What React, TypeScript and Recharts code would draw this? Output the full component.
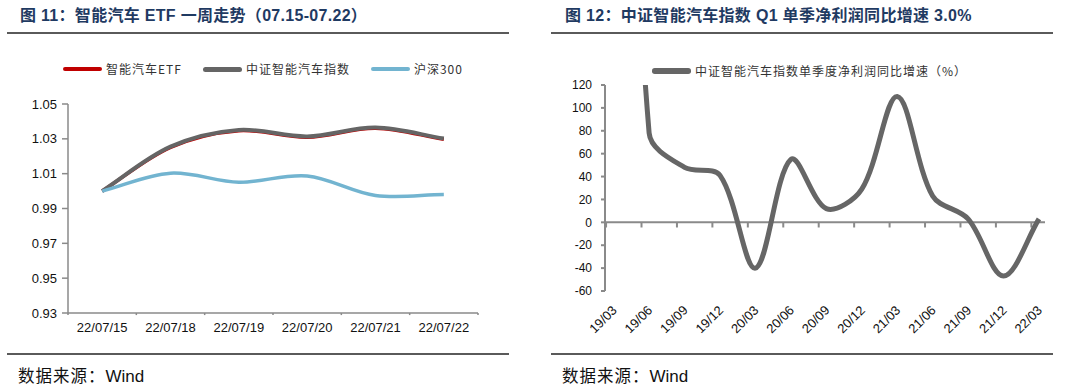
import { LineChart, Line, XAxis, YAxis, ReferenceLine } from 'recharts'

// ---- fig 11: one week trend ----
const weekDates = ['22/07/15', '22/07/18', '22/07/19', '22/07/20', '22/07/21', '22/07/22']
const etfValues = [1.0, 1.0251, 1.0347, 1.0309, 1.0361, 1.0297]
const indexValues = [1.0, 1.0255, 1.0351, 1.0314, 1.0365, 1.0302]
const hs300Values = [1.0, 1.0103, 1.0051, 1.0087, 0.9975, 0.998]
const weekTicks = [0.93, 0.95, 0.97, 0.99, 1.01, 1.03, 1.05]

// ---- fig 12: quarterly net profit yoy ----
const quarters = ['19/03', '19/06', '19/09', '19/12', '20/03', '20/06', '20/09', '20/12', '21/03', '21/06', '21/09', '21/12', '22/03']
const profitGrowth = [800, 78, 48, 41, -40, 55, 12, 29, 110, 23, 3, -47, 3]
const growthTicks = [-60, -40, -20, 0, 20, 40, 60, 80, 100, 120]

const FONT = '"Liberation Sans", Arial, "Noto Sans CJK SC", sans-serif'
const CJK = '"Noto Sans CJK SC", "Liberation Sans", sans-serif'
const AXIS = '#8a8a8a'

const weekData = weekDates.map((d, i) => ({
  i, date: d, etf: etfValues[i], index: indexValues[i], hs300: hs300Values[i],
}))
const growthData = quarters.map((q, i) => ({ i, q, v: profitGrowth[i] }))

// Excel-like smoothing: cubic bezier, tangent split by neighbouring chord lengths
// eslint-disable-next-line @typescript-eslint/no-explicit-any
function excelSmooth(context: any) {
  let pts: number[][] = []
  return {
    areaStart() {},
    areaEnd() {},
    lineStart() { pts = [] },
    point(x: number, y: number) { pts.push([+x, +y]) },
    lineEnd() {
      const n = pts.length
      if (!n) return
      context.moveTo(pts[0][0], pts[0][1])
      const outs: number[][] = []
      const ins: number[][] = []
      for (let i = 0; i < n; i++) {
        const p = pts[i]
        const prev = pts[i - 1] ?? p
        const next = pts[i + 1] ?? p
        const tx = next[0] - prev[0]
        const ty = next[1] - prev[1]
        const dp = Math.hypot(p[0] - prev[0], p[1] - prev[1])
        const dn = Math.hypot(next[0] - p[0], next[1] - p[1])
        const s = (dp + dn) || 1
        outs.push([p[0] + (tx * dn) / s / 3, p[1] + (ty * dn) / s / 3])
        ins.push([p[0] - (tx * dp) / s / 3, p[1] - (ty * dp) / s / 3])
      }
      for (let i = 0; i < n - 1; i++) {
        context.bezierCurveTo(outs[i][0], outs[i][1], ins[i + 1][0], ins[i + 1][1], pts[i + 1][0], pts[i + 1][1])
      }
    },
  }
}

function Frame({ title, left, titleX }: { title: string; left: number; titleX: number }) {
  return (
    <>
      <div style={{ position: 'absolute', left: titleX, top: 5, fontFamily: FONT, fontWeight: 700, fontSize: 16, letterSpacing: 0.3, lineHeight: '21px', color: '#1f3a62', whiteSpace: 'nowrap' }}>
        {title}
      </div>
      <div style={{ position: 'absolute', left, top: 32, width: 502, height: 2, background: '#5a5a5a' }} />
      <div style={{ position: 'absolute', left, top: 353, width: 502, height: 2, background: '#5a5a5a' }} />
      <div style={{ position: 'absolute', left: left + 11, top: 364, fontFamily: CJK, fontSize: 16.5, letterSpacing: 1, lineHeight: '22px', color: '#111', whiteSpace: 'nowrap' }}>
        数据来源：<span style={{ fontFamily: FONT, fontSize: 17, letterSpacing: 0 }}>Wind</span>
      </div>
    </>
  )
}

function LegendItem({ color, label, width }: { color: string; label: string; width: number }) {
  return (
    <div style={{ display: 'flex', alignItems: 'center', gap: 4 }}>
      <div style={{ width: 39, height: width, borderRadius: width / 2, background: color }} />
      <span style={{ fontFamily: CJK, fontSize: 12, letterSpacing: 1, color: '#333', lineHeight: '16px' }}>{label}</span>
    </div>
  )
}

// eslint-disable-next-line @typescript-eslint/no-explicit-any
function QuarterTick({ x, y, payload }: any) {
  const ax = x + 4
  return (
    <text x={ax} y={y} transform={`rotate(-45 ${ax} ${y})`} textAnchor="end" fontSize={13} fontFamily={FONT} fill="#111">
      {quarters[payload.value]}
    </text>
  )
}

function WeekChart() {
  const bounds = weekDates.map((_, i) => i - 0.5).concat(weekDates.length - 0.5)
  return (
    <div style={{ position: 'absolute', left: 0, top: 0 }}>
      <LineChart width={540} height={389} data={weekData} margin={{ top: 104, right: 62, bottom: 46, left: 8 }}>
        <XAxis
          dataKey="i" type="number" domain={[-0.5, weekDates.length - 0.5]} allowDataOverflow
          ticks={weekData.map(d => d.i)} tickFormatter={v => weekDates[v]}
          height={30} tickLine={false} tickSize={0} tickMargin={10}
          axisLine={{ stroke: AXIS, strokeWidth: 1.5 }}
          tick={{ fontSize: 13, fill: '#111', fontFamily: FONT }}
        />
        <YAxis
          domain={[0.93, 1.05]} ticks={weekTicks} allowDataOverflow width={60}
          tickFormatter={v => v.toFixed(2)}
          axisLine={{ stroke: AXIS, strokeWidth: 1.5 }}
          tickLine={{ stroke: AXIS, strokeWidth: 1.5 }} tickSize={6} tickMargin={5}
          tick={{ fontSize: 13, fill: '#111', fontFamily: FONT }}
        />
        {bounds.map(b => (
          <ReferenceLine key={b} segment={[{ x: b, y: 0.93 }, { x: b, y: 0.9288 }]} ifOverflow="visible" stroke={AXIS} strokeWidth={1.5} />
        ))}
        <Line dataKey="etf" name="智能汽车ETF" type={excelSmooth} stroke="#c00000" strokeWidth={3.5} dot={false} isAnimationActive={false} />
        <Line dataKey="index" name="中证智能汽车指数" type={excelSmooth} stroke="#656565" strokeWidth={4} dot={false} isAnimationActive={false} />
        <Line dataKey="hs300" name="沪深300" type={excelSmooth} stroke="#72b4d0" strokeWidth={3.5} dot={false} isAnimationActive={false} />
      </LineChart>
      <div style={{ position: 'absolute', left: 63, top: 61, display: 'flex', gap: 21 }}>
        <LegendItem color="#c00000" label="智能汽车ETF" width={4} />
        <LegendItem color="#656565" label="中证智能汽车指数" width={5} />
        <LegendItem color="#72b4d0" label="沪深300" width={4} />
      </div>
    </div>
  )
}

function GrowthChart() {
  const n = quarters.length
  return (
    <div style={{ position: 'absolute', left: 540, top: 0 }}>
      <LineChart width={540} height={389} data={growthData} margin={{ top: 85, right: 35, bottom: 38, left: 15 }}>
        <XAxis
          dataKey="i" type="number" domain={[-0.245, n - 0.83]} allowDataOverflow
          ticks={growthData.map(d => d.i)} height={60}
          axisLine={false} tickLine={false} tickSize={0} tickMargin={20}
          tick={<QuarterTick />}
        />
        <YAxis
          domain={[-60, 120]} ticks={growthTicks} allowDataOverflow width={50}
          axisLine={{ stroke: AXIS, strokeWidth: 2 }}
          tickLine={{ stroke: AXIS, strokeWidth: 2 }} tickSize={4} tickMargin={9}
          tick={{ fontSize: 12, fill: '#111', fontFamily: FONT }}
        />
        <ReferenceLine y={0} stroke={AXIS} strokeWidth={2} />
        {growthData.map(d => (
          <ReferenceLine key={d.q} segment={[{ x: d.i - 0.215, y: 0 }, { x: d.i - 0.215, y: -4.5 }]} ifOverflow="visible" stroke={AXIS} strokeWidth={2} />
        ))}
        <Line dataKey="v" name="中证智能汽车指数单季度净利润同比增速（%）" type={excelSmooth} stroke="#666666" strokeWidth={5} dot={false} isAnimationActive={false} />
      </LineChart>
      <div style={{ position: 'absolute', left: 112, top: 63 }}>
        <LegendItem color="#666666" label="中证智能汽车指数单季度净利润同比增速（%）" width={5.5} />
      </div>
    </div>
  )
}

export default function App() {
  return (
    <div style={{ position: 'absolute', left: 0, top: 0, width: 1080, height: 389, background: '#fff', overflow: 'hidden' }}>
      <Frame title="图 11：智能汽车 ETF 一周走势（07.15-07.22）" left={7} titleX={20} />
      <Frame title="图 12：中证智能汽车指数 Q1 单季净利润同比增速 3.0%" left={551} titleX={565} />
      <WeekChart />
      <GrowthChart />
    </div>
  )
}
